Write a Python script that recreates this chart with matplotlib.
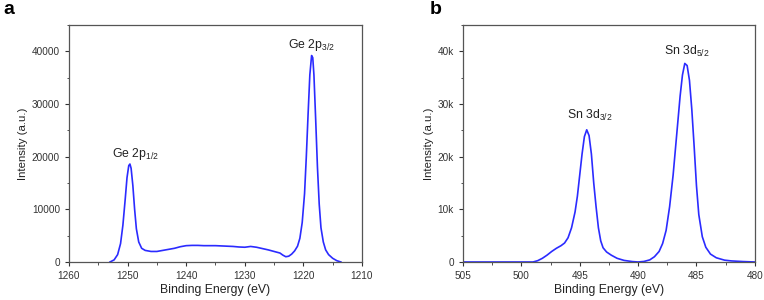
import matplotlib
matplotlib.use("Agg")
import matplotlib.pyplot as plt
from matplotlib.ticker import MultipleLocator, FuncFormatter

plt.rcParams['font.family'] = ['Liberation Sans', 'DejaVu Sans']
plt.rcParams['mathtext.fontset'] = 'custom'
plt.rcParams['mathtext.rm'] = 'Liberation Sans'
plt.rcParams['mathtext.it'] = 'Liberation Sans'

# Ge 2p spectrum (panel a)
ge_be = [1253.0, 1252.3, 1251.7, 1251.2, 1250.8, 1250.4, 1250.1, 1249.8, 1249.6,
         1249.4, 1249.1, 1248.8, 1248.5, 1248.1, 1247.6, 1247.0, 1246.0, 1245.0,
         1244.0, 1243.0, 1242.0, 1241.0, 1240.0, 1239.0, 1238.0, 1237.0, 1236.0,
         1235.0, 1234.0, 1233.0, 1232.0, 1231.0, 1230.0, 1229.0, 1228.0, 1227.0,
         1226.0, 1225.0, 1224.0, 1223.5, 1223.0, 1222.5, 1222.0, 1221.5, 1221.0,
         1220.6, 1220.2, 1219.8, 1219.5, 1219.2, 1218.9, 1218.6, 1218.4, 1218.2,
         1217.9, 1217.6, 1217.3, 1217.0, 1216.6, 1216.2, 1215.7, 1215.0, 1214.3,
         1213.6]
ge_int = [0, 400, 1400, 3500, 7000, 12000, 16000, 18300, 18600,
          17800, 14500, 10000, 6300, 3800, 2600, 2200, 2000, 2000,
          2200, 2400, 2600, 2900, 3100, 3150, 3150, 3100, 3100,
          3100, 3050, 3000, 2950, 2850, 2800, 2950, 2800, 2550,
          2300, 2000, 1700, 1300, 1000, 1100, 1500, 2100, 3000,
          4500, 7500, 13000, 20000, 28000, 35500, 39200, 38800, 35500,
          27000, 18000, 11000, 6500, 3800, 2300, 1400, 700, 250,
          0]

# Sn 3d spectrum (panel b)
sn_be = [505.0, 500.0, 499.0, 498.6, 498.2, 497.8, 497.4, 497.0, 496.6, 496.3,
         496.0, 495.7, 495.4, 495.2, 495.0, 494.8, 494.6, 494.4, 494.2, 494.0,
         493.8, 493.6, 493.4, 493.2, 493.0, 492.7, 492.3, 491.8, 491.2, 490.5,
         490.0, 489.5, 489.0, 488.6, 488.2, 487.9, 487.6, 487.3, 487.0, 486.7,
         486.4, 486.2, 486.0, 485.8, 485.6, 485.4, 485.2, 485.0, 484.8, 484.5,
         484.2, 483.8, 483.3, 482.6, 482.0, 481.0, 480.0]
sn_int = [0, 0, 0, 250, 700, 1300, 2000, 2600, 3100, 3600,
          4600, 6500, 9500, 12500, 16500, 20500, 23800, 25100, 24000, 20500,
          15000, 10500, 6500, 4000, 2700, 1900, 1300, 700, 300, 80,
          0, 100, 400, 1000, 2000, 3500, 6000, 10500, 16500, 24000,
          31500, 35500, 37700, 37300, 34500, 29000, 22000, 14500, 9000, 4800,
          2800, 1500, 800, 350, 200, 80, 0]

ge_labels = ['Ge 2p$_{1/2}$', 'Ge 2p$_{3/2}$']
ge_label_pos = [(1248.6, 19000), (1218.6, 39600)]
sn_labels = ['Sn 3d$_{3/2}$', 'Sn 3d$_{5/2}$']
sn_label_pos = [(494.1, 26300), (485.8, 38600)]

line_color = '#2b2bff'
text_color = '#222222'

fig = plt.figure(figsize=(7.64, 3.0), dpi=100)
ax1 = fig.add_axes([0.0903, 0.1267, 0.3835, 0.79])
ax2 = fig.add_axes([0.606, 0.1267, 0.382, 0.79])


def style(ax):
    ax.tick_params(which='both', direction='out', labelsize=7.2, colors='#333333',
                   top=False, right=False)
    ax.tick_params(which='major', length=3, width=0.8)
    ax.tick_params(which='minor', length=1.8, width=0.6)
    for s in ax.spines.values():
        s.set_color('#555555')
        s.set_linewidth(0.9)
    ax.set_xlabel('Binding Energy (eV)', fontsize=8.8, color=text_color, labelpad=2)
    ax.set_ylabel('Intensity (a.u.)', fontsize=8.2, color=text_color, labelpad=3)


ax1.plot(ge_be, ge_int, color=line_color, lw=1.2)
ax1.set_xlim(1260, 1210)
ax1.set_ylim(0, 45000)
ax1.xaxis.set_major_locator(MultipleLocator(10))
ax1.xaxis.set_minor_locator(MultipleLocator(5))
ax1.yaxis.set_major_locator(MultipleLocator(10000))
ax1.yaxis.set_minor_locator(MultipleLocator(5000))
style(ax1)
for lab, (x, y) in zip(ge_labels, ge_label_pos):
    ax1.text(x, y, lab, ha='center', va='bottom', fontsize=8.8, color=text_color)

ax2.plot(sn_be, sn_int, color=line_color, lw=1.2)
ax2.set_xlim(505, 480)
ax2.set_ylim(0, 45000)
ax2.xaxis.set_major_locator(MultipleLocator(5))
ax2.xaxis.set_minor_locator(MultipleLocator(2.5))
ax2.yaxis.set_major_locator(MultipleLocator(10000))
ax2.yaxis.set_minor_locator(MultipleLocator(5000))
ax2.yaxis.set_major_formatter(FuncFormatter(lambda v, p: '0' if v == 0 else '%dk' % (v / 1000)))
style(ax2)
for lab, (x, y) in zip(sn_labels, sn_label_pos):
    ax2.text(x, y, lab, ha='center', va='bottom', fontsize=8.8, color=text_color)

fig.text(0.004, 0.995, 'a', fontsize=14, fontweight='bold', va='top', ha='left')
fig.text(0.563, 0.995, 'b', fontsize=14, fontweight='bold', va='top', ha='left')

fig.savefig('out.png', dpi=100)
